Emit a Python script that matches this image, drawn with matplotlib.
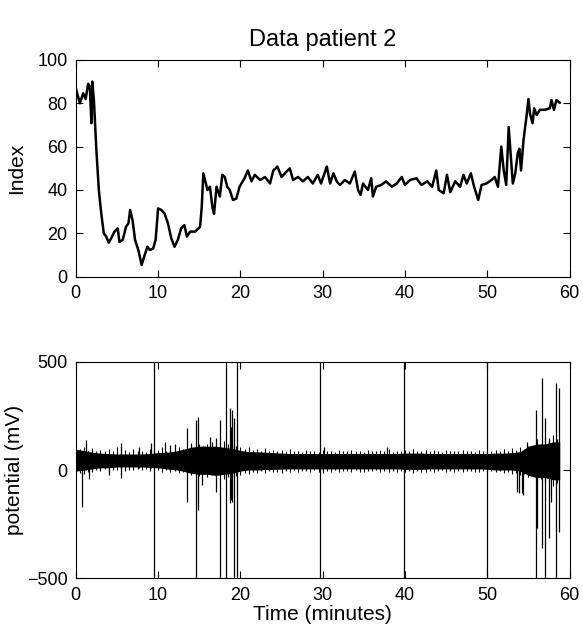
import matplotlib
matplotlib.use("Agg")
import matplotlib.pyplot as plt

plt.rcParams['font.family'] = ['Liberation Sans', 'DejaVu Sans']

# --- top panel: index values ---
idx_t = [0, 0.5, 0.9, 1.2, 1.5, 1.7, 1.9, 2.0, 2.2, 2.5, 2.8, 3.1, 3.4, 3.7, 4.0,
         4.3, 4.7, 5.1, 5.3, 5.7, 6.1, 6.4, 6.6, 6.9, 7.2, 7.6, 8.0, 8.3, 8.7, 9.0,
         9.4, 9.7, 10.0, 10.4, 10.8, 11.2, 11.6, 12.0, 12.4, 12.8, 13.2, 13.5, 13.9,
         14.5, 15.1, 15.3, 15.5, 15.8, 16.0, 16.3, 16.6, 16.8, 17.1, 17.5, 17.8,
         18.1, 18.4, 18.7, 19.1, 19.5, 19.9, 20.5, 20.9, 21.35, 21.75, 22.4, 23.0,
         23.6, 24.0, 24.5, 25.0, 25.6, 26.0, 26.4, 27.0, 27.6, 28.2, 28.8, 29.4,
         29.8, 30.5, 30.9, 31.3, 31.7, 32.1, 32.7, 33.3, 33.9, 34.3, 34.6, 34.9,
         35.5, 35.9, 36.1, 36.5, 37.1, 37.7, 38.4, 39.0, 39.6, 40.0, 40.6, 41.4,
         42.0, 42.7, 43.3, 43.8, 44.1, 44.7, 45.1, 45.5, 46.1, 46.7, 47.1, 47.5,
         48.0, 48.4, 48.9, 49.3, 49.9, 50.5, 50.9, 51.3, 51.7, 52.0, 52.3, 52.6,
         52.8, 53.1, 53.4, 53.7, 53.9, 54.1, 54.4, 54.6, 54.8, 55.0, 55.2, 55.5,
         55.7, 56.0, 56.4, 57.0, 57.6, 57.8, 58.1, 58.4, 58.8]
idx_val = [87, 80, 84.6, 82, 89, 87.7, 70.8, 90, 81.5, 58.5, 40, 29, 20, 18.5, 15.7,
           17.7, 20.8, 22.3, 16, 17, 23, 24.6, 30.8, 26, 17, 12.3, 5.4, 9.2, 13.8, 12.3,
           13, 17, 31.5, 30.8, 29, 24.6, 17.7, 13.8, 17, 22.3, 23.8, 18.5, 20.8,
           20.8, 23, 32, 47.7, 43, 40, 41.5, 32, 29, 41.5, 37, 47,
           46, 41.5, 40, 35.4, 36, 41.5, 45.4, 49, 44, 47, 44.6, 46,
           43, 49, 50.8, 46, 48.5, 50, 44.6, 46, 44, 46, 43, 47,
           43, 50.8, 43, 47.7, 44, 42.3, 44.6, 43, 48.5, 40, 37.7, 43,
           40, 45.4, 37, 41.5, 42.3, 44, 41.5, 43, 46, 42.3, 44.6, 45.4,
           42.3, 44, 41.5, 49, 40, 38.5, 47, 39, 44, 41.5, 47, 43,
           47.7, 41.5, 35.4, 42.3, 43, 44.6, 46, 41.5, 60, 49, 42.3, 69,
           58.5, 43, 47.7, 57, 59, 49, 63, 69, 75, 82, 75, 70.8,
           77.7, 74.6, 77, 77, 77.7, 81.5, 77, 81.5, 80.3]

# --- bottom panel: dense core of the signal (mV), one value per minute ---
band_t = list(range(0, 59)) + [58.8]
band_hi = [95, 90, 82, 78, 76, 74, 74, 74, 74, 76, 80, 82, 86, 95, 105,
           110, 110, 110, 105, 100, 90, 85, 84, 82, 80, 78, 76, 76, 76, 76,
           76, 76, 76, 76, 76, 76, 76, 76, 76, 76, 78, 78, 78, 76, 76, 76,
           76, 76, 76, 76, 76, 78, 78, 80, 85, 110, 120, 120, 130, 130]
band_lo = [-5, 0, 5, 10, 10, 14, 14, 14, 14, 12, 10, 5, 2, -5, -15,
           -20, -20, -25, -20, -15, -5, 0, 0, 2, 3, 4, 5, 5, 5, 5,
           5, 5, 5, 5, 5, 5, 5, 5, 5, 5, 3, 3, 3, 5, 5, 5,
           5, 5, 5, 5, 3, 0, 0, 0, -5, -25, -35, -35, -45, -45]

# ragged edge of the trace, every half minute from 0 to 58.5
edge_t = [i * 0.5 for i in range(118)]
edge_hi = [112, 98, 105, 90, 100, 88, 94, 86, 96, 88, 104, 87, 92, 84, 95, 86, 90, 84, 98, 88,
           92, 104, 88, 100, 90, 108, 96, 102, 112, 100, 122, 110, 118, 128, 112, 120, 132, 118, 124, 112,
           104, 96, 108, 92, 98, 90, 100, 88, 94, 87, 92, 86, 96, 88, 90, 85, 92, 86, 89, 85,
           94, 87, 90, 85, 92, 88, 86, 93, 87, 90, 85, 92, 88, 86, 91, 87, 96, 85, 89, 87,
           92, 88, 96, 87, 90, 94, 86, 92, 89, 85, 93, 88, 90, 86, 92, 87, 89, 85, 91, 87,
           90, 86, 92, 88, 96, 90, 102, 92, 104, 97, 112, 107, 142, 122, 152, 132, 162, 142]
edge_lo = [-22, -12, -17, -8, -10, -2, -4, 3, -7, 0, -2, 3, -4, 2, -2, 4, 0, 3, -4, 2,
           -2, -7, 0, -10, -4, -12, -7, -17, -22, -12, -27, -20, -32, -24, -37, -30, -42, -32, -37, -27,
           -22, -12, -17, -7, -14, -6, -12, -4, -10, -7, -12, -4, -8, -2, -10, -6, -4, -8, -2, -7,
           -12, -4, -8, -2, -10, -6, -4, -8, -2, -7, -10, -4, -6, -2, -8, -4, -10, -3, -7, -5,
           -8, -4, -12, -6, -7, -10, -4, -8, -6, -2, -10, -5, -8, -3, -9, -6, -4, -10, -7, -4,
           -7, -4, -10, -6, -12, -8, -17, -12, -22, -17, -32, -27, -52, -42, -62, -52, -72, -62]

# spikes: time (min), lowest and highest value (mV)
spike_t = [0.77, 1.3, 1.6, 4.0, 5.5, 7.7, 9.1, 10.9, 11.5, 12.0, 13.5, 13.95,
           14.6, 14.9, 15.3, 16.3, 17.0, 17.5, 18.7, 18.9, 19.0, 19.26, 30.1,
           37.8, 53.6, 53.8, 54.2, 54.3, 54.8, 55.9, 56.0, 56.65, 57.05, 57.45,
           57.7, 58.35, 58.7]
spike_lo = [-170, 0, -40, -23, -38, 10, 10, 10, 0, 0, -146, 0,
            -500, -185, -69, -20, -100, -500, -152, -139, -146, -500, 20,
            20, -100, -108, -107, -115, 0, -500, -268, -362, -500, -314,
            -146, -500, -285]
spike_hi = [60, 139, 60, 60, 123, 108, 123, 131, 115, 118, 192, 123,
            230, 246, 100, 154, 150, 231, 286, 200, 277, 240, 108,
            108, 60, 60, 80, 80, 131, 277, 100, 424, 239, 150,
            100, 400, 379]

# full-height artefact lines
mark_t = [9.5, 18.25, 19.55, 29.7, 39.9, 50.0]

fig = plt.figure(figsize=(5.83, 6.31), dpi=100)
ax1 = fig.add_axes([0.130, 0.5615, 0.847, 0.3435])
ax2 = fig.add_axes([0.130, 0.0835, 0.847, 0.3433])

ax1.plot(idx_t, idx_val, color='black', lw=1.8)
ax1.set_xlim(0, 60)
ax1.set_ylim(0, 100)
ax1.set_xticks([0, 10, 20, 30, 40, 50, 60])
ax1.set_yticks([0, 20, 40, 60, 80, 100])
ax1.set_ylabel('Index', fontsize=15, labelpad=8)
ax1.set_title('Data patient 2', fontsize=17, pad=10)

ax2.fill_between(band_t, band_lo, band_hi, color='black', lw=0)
ax2.vlines(edge_t, edge_lo, edge_hi, color='black', lw=0.8)
ax2.vlines(spike_t, spike_lo, spike_hi, color='black', lw=0.9)
ax2.vlines(mark_t, -500, 500, color='black', lw=0.9)
ax2.set_xlim(0, 60)
ax2.set_ylim(-500, 500)
ax2.set_xticks([0, 10, 20, 30, 40, 50, 60])
ax2.set_yticks([-500, 0, 500])
ax2.set_xlabel('Time (minutes)', fontsize=15, labelpad=1)
ax2.set_ylabel('potential (mV)', fontsize=15, labelpad=2)

for ax in (ax1, ax2):
    ax.tick_params(direction='in', top=True, right=True, length=5,
                   labelsize=13, width=0.8, pad=6)
    for s in ax.spines.values():
        s.set_linewidth(0.8)

plt.savefig("out.png", dpi=100)
